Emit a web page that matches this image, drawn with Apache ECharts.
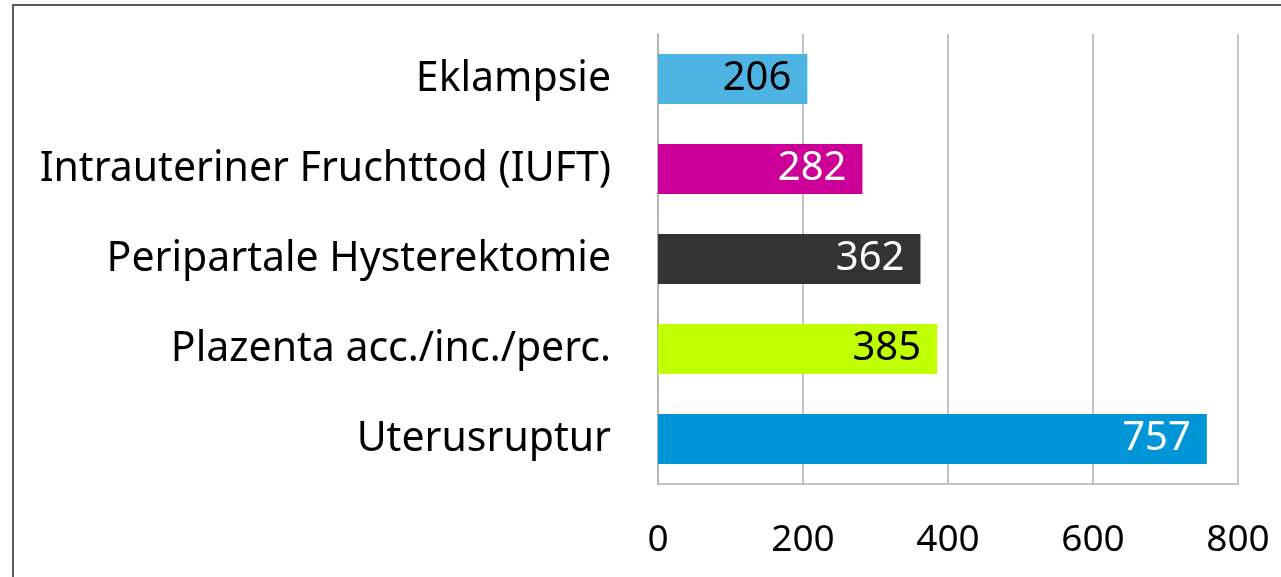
<!DOCTYPE html>
<html>
<head>
<meta charset="utf-8">
<script src="https://cdn.jsdelivr.net/npm/echarts@6/dist/echarts.min.js"></script>
<style>
html,body{margin:0;padding:0;background:#fff;}
#chart{width:1281px;height:577px;}
</style>
</head>
<body>
<div id="chart"></div>
<script>
const categories = ["Eklampsie", "Intrauteriner Fruchttod (IUFT)", "Peripartale Hysterektomie", "Plazenta acc./inc./perc.", "Uterusruptur"];
const values = [206, 282, 362, 385, 757];
const barColors = ["#4db3e2", "#cc0099", "#333333", "#bfff00", "#0095d6"];
const labelColors = ["#000000", "#ffffff", "#ffffff", "#000000", "#ffffff"];
const xTicks = [0, 200, 400, 600, 800];

const chart = echarts.init(document.getElementById('chart'));
const FONT = '"Noto Sans", sans-serif';
chart.setOption({
  animation: false,
  backgroundColor: '#ffffff',
  graphic: [{
    type: 'rect',
    shape: {x: 13, y: 5, width: 1400, height: 700},
    style: {fill: 'none', stroke: '#595959', lineWidth: 2},
    silent: true
  }],
  grid: {left: 658, right: 43, top: 34, bottom: 93, containLabel: false},
  xAxis: {
    type: 'value',
    min: xTicks[0],
    max: xTicks[xTicks.length - 1],
    interval: xTicks[1] - xTicks[0],
    axisLine: {show: true, lineStyle: {color: '#b0b0b0', width: 1.5}},
    axisTick: {show: false},
    splitLine: {show: true, lineStyle: {color: '#b0b0b0', width: 1.5}},
    axisLabel: {color: '#000', fontFamily: FONT, fontSize: 37, margin: 38}
  },
  yAxis: {
    type: 'category',
    data: categories,
    inverse: true,
    axisLine: {show: true, lineStyle: {color: '#b0b0b0', width: 1.5}},
    axisTick: {show: false},
    axisLabel: {color: '#000', fontFamily: FONT, fontSize: 41, margin: 47, padding: [4, 0, 0, 0]}
  },
  series: [{
    type: 'bar',
    barWidth: 50,
    data: values.map((v, i) => ({
      value: v,
      itemStyle: {color: barColors[i]},
      label: {color: labelColors[i]}
    })),
    label: {
      show: true,
      position: 'insideRight',
      distance: 16,
      fontFamily: FONT,
      fontSize: 40
    }
  }]
});
</script>
</body>
</html>
